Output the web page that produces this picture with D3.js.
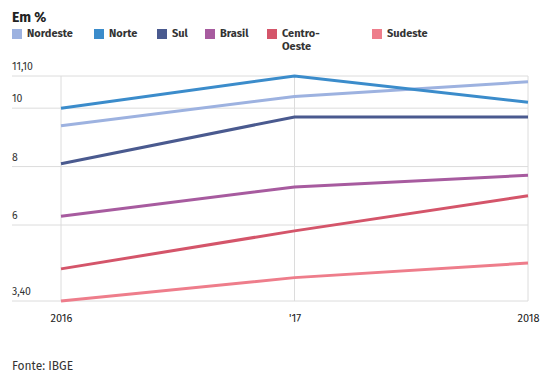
<!DOCTYPE html>
<html><head><meta charset="utf-8">
<script src="https://cdn.jsdelivr.net/npm/d3@7"></script>
<style>
body{margin:0;background:#fff;}
svg text{font-family:"Fira Sans","Open Sans","Noto Sans",sans-serif;}
</style></head>
<body><svg id="c" width="555" height="386"></svg>
<script>
const years = ["2016", "'17", "2018"];
const seriesNames = ["Nordeste", "Norte", "Sul", "Brasil", "Centro-Oeste", "Sudeste"];
const seriesColors = ["#9db2e0", "#3b8ccb", "#4a5a8f", "#a75b9f", "#d4556a", "#ee7d8b"];
const nordeste = [9.4, 10.4, 10.9];
const norte = [10.0, 11.1, 10.2];
const sul = [8.1, 9.7, 9.7];
const brasil = [6.3, 7.3, 7.7];
const centroOeste = [4.5, 5.8, 7.0];
const sudeste = [3.4, 4.2, 4.7];
const yTicks = [3.4, 6, 8, 10, 11.1];
const yTickLabels = ["3,40", "6", "8", "10", "11,10"];

const seriesValues = [nordeste, norte, sul, brasil, centroOeste, sudeste];
const svg = d3.select("#c");
const plainFont = "'Open Sans','Noto Sans',sans-serif";

const x = d3.scalePoint().domain(years).range([61, 528]);
const y = d3.scaleLinear().domain([3.4, 11.1]).range([301, 76]);

// title
svg.append("text").attr("x", 12).attr("y", 22).attr("font-size", 14).attr("font-weight", 700)
  .attr("fill", "#222").text("Em %");

// legend
const legendX = [12, 94, 157, 205, 267, 372];
seriesNames.forEach((n, i) => {
  const g = svg.append("g").attr("transform", `translate(${legendX[i]},0)`);
  g.append("rect").attr("x", 0).attr("y", 29).attr("width", 10).attr("height", 10).attr("fill", seriesColors[i]);
  const t = g.append("text").attr("x", 15).attr("y", 37).attr("font-size", 11).attr("font-weight", 700).attr("fill", "#333");
  if (n === "Centro-Oeste") {
    t.append("tspan").attr("x", 15).attr("y", 37).text("Centro-");
    t.append("tspan").attr("x", 15).attr("y", 50).text("Oeste");
  } else t.text(n);
});

// grid
const grid = svg.append("g");
yTicks.forEach(v => {
  grid.append("line").attr("x1", 12).attr("x2", 528).attr("y1", y(v)).attr("y2", y(v))
    .attr("stroke", "#dcdcdc").attr("stroke-width", 1);
});
years.forEach(v => {
  grid.append("line").attr("x1", x(v)).attr("x2", x(v)).attr("y1", 76).attr("y2", 301)
    .attr("stroke", "#dcdcdc").attr("stroke-width", 1);
});
yTicks.forEach((v, i) => {
  svg.append("text").attr("x", 12).attr("y", y(v) - 6).attr("font-size", 10.5).attr("fill", "#333")
    .attr("font-family", plainFont).text(yTickLabels[i]);
});

// x axis labels
const xAxis = d3.axisBottom(x).tickSize(0).tickPadding(0);
const xg = svg.append("g").attr("transform", "translate(0,314)").call(xAxis);
xg.select(".domain").remove();
xg.selectAll("text").attr("font-size", 11).attr("fill", "#222").attr("font-family", plainFont);

// lines
const line = d3.line().x((d, i) => x(years[i])).y(d => y(d));
seriesValues.forEach((vals, i) => {
  svg.append("path").datum(vals).attr("d", line).attr("fill", "none")
    .attr("stroke", seriesColors[i]).attr("stroke-width", 3);
});

// source
svg.append("text").attr("x", 12).attr("y", 370).attr("font-size", 12).attr("fill", "#333")
  .attr("font-family", plainFont).text("Fonte: IBGE");
</script></body></html>
